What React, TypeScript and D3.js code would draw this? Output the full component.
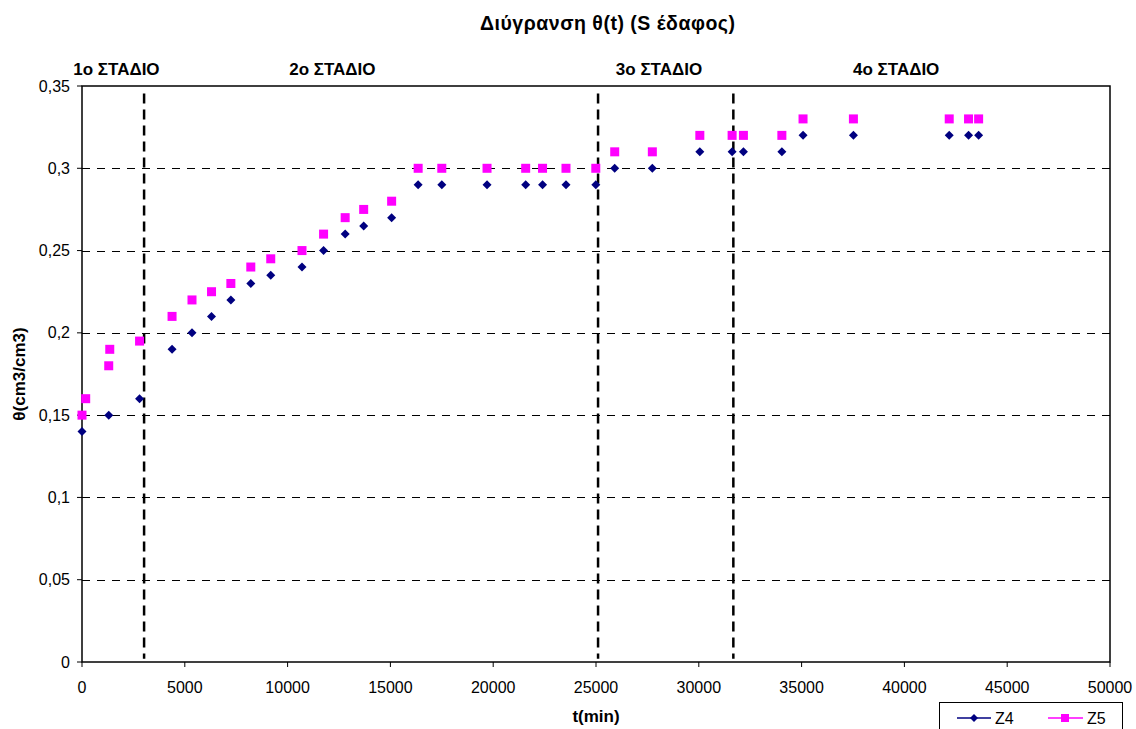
import React from "react";
import * as d3 from "d3";

const z4T = [0, 1300, 2800, 4380, 5350, 6300, 7240, 8210, 9180, 10700, 11750, 12800, 13700, 15060, 16350, 17500, 19700, 21580, 22400, 23540, 24990, 25910, 27740, 30050, 31620, 32170, 34040, 35070, 37520, 42180, 43120, 43610];
const z4V = [0.14, 0.15, 0.16, 0.19, 0.2, 0.21, 0.22, 0.23, 0.235, 0.24, 0.25, 0.26, 0.265, 0.27, 0.29, 0.29, 0.29, 0.29, 0.29, 0.29, 0.29, 0.3, 0.3, 0.31, 0.31, 0.31, 0.31, 0.32, 0.32, 0.32, 0.32, 0.32];

const z5T = [0, 180, 1300, 1350, 2800, 4380, 5350, 6300, 7240, 8210, 9180, 10700, 11750, 12800, 13700, 15060, 16350, 17500, 19700, 21580, 22400, 23540, 24990, 25910, 27740, 30050, 31620, 32170, 34040, 35070, 37520, 42180, 43120, 43610];
const z5V = [0.15, 0.16, 0.18, 0.19, 0.195, 0.21, 0.22, 0.225, 0.23, 0.24, 0.245, 0.25, 0.26, 0.27, 0.275, 0.28, 0.3, 0.3, 0.3, 0.3, 0.3, 0.3, 0.3, 0.31, 0.31, 0.32, 0.32, 0.32, 0.32, 0.33, 0.33, 0.33, 0.33, 0.33];

const stageT = [3020, 25100, 31680];
const stageTop = 0.3455;
const stageLabels = ["1ο ΣΤΑΔΙΟ", "2ο ΣΤΑΔΙΟ", "3ο ΣΤΑΔΙΟ", "4ο ΣΤΑΔΙΟ"];
const stageLabelT = [1674, 12177, 28066, 39600];

const xTicks = [0, 5000, 10000, 15000, 20000, 25000, 30000, 35000, 40000, 45000, 50000];
const yTicks = [0, 0.05, 0.1, 0.15, 0.2, 0.25, 0.3, 0.35];

const title = "Διύγρανση θ(t) (S έδαφος)";
const xLabel = "t(min)";
const yLabel = "θ(cm3/cm3)";
const seriesNames = ["Z4", "Z5"];

const W = 1136, H = 729;
const L = 82, R = 1110, T = 86, B = 662;
const FONT = "Arial, 'Liberation Sans', sans-serif";
const NAVY = "#000080";
const MAG = "#FF00FF";

const x = d3.scaleLinear().domain([0, 50000]).range([L, R]);
const y = d3.scaleLinear().domain([0, 0.35]).range([B, T]);
const fmtY = (v: number) => String(+v.toFixed(2)).replace(".", ",");

function Diamond({ cx, cy, s = 4.5 }: { cx: number; cy: number; s?: number }) {
  return <path d={`M${cx},${cy - s}L${cx + s},${cy}L${cx},${cy + s}L${cx - s},${cy}Z`} fill={NAVY} />;
}
function Square({ cx, cy, s = 4.5 }: { cx: number; cy: number; s?: number }) {
  return <rect x={cx - s} y={cy - s} width={2 * s} height={2 * s} fill={MAG} />;
}

export default function App() {
  return (
    <svg width={W} height={H} style={{ position: "absolute", left: 0, top: 0, background: "#fff" }} fontFamily={FONT}>
      <rect x={0} y={0} width={W} height={H} fill="#fff" />
      <text x={480} y={30} fontSize={19.5} fontWeight="bold" textLength={255} lengthAdjust="spacing">{title}</text>

      {/* gridlines */}
      {yTicks.filter((v) => v > 0 && v < 0.35).map((v) => (
        <line key={v} x1={L} x2={R} y1={Math.round(y(v)) + 0.5} y2={Math.round(y(v)) + 0.5} stroke="#000" strokeWidth={1} strokeDasharray="8,7" />
      ))}

      {/* plot frame */}
      <rect x={L} y={T} width={R - L} height={B - T} fill="none" stroke="#000" strokeWidth={1.5} />

      {/* y ticks */}
      {yTicks.map((v) => (
        <g key={v}>
          <line x1={L - 5} x2={L} y1={y(v)} y2={y(v)} stroke="#000" strokeWidth={1} />
          <text x={70} y={y(v) + 5.5} textAnchor="end" fontSize={16}>{fmtY(v)}</text>
        </g>
      ))}
      {/* x ticks */}
      {xTicks.map((v) => (
        <g key={v}>
          <line x1={x(v)} x2={x(v)} y1={B} y2={B + 5} stroke="#000" strokeWidth={1} />
          <text x={x(v)} y={693} textAnchor="middle" fontSize={16}>{v}</text>
        </g>
      ))}

      <text x={(L + R) / 2} y={722} textAnchor="middle" fontSize={17} fontWeight="bold">{xLabel}</text>
      <text transform={`translate(25,${(T + B) / 2}) rotate(-90)`} textAnchor="middle" fontSize={17} fontWeight="bold">{yLabel}</text>

      {/* stage lines */}
      {stageT.map((t) => (
        <line key={t} x1={x(t)} x2={x(t)} y1={y(stageTop)} y2={y(0.002)} stroke="#000" strokeWidth={2.5} strokeDasharray="10,6" />
      ))}
      {stageLabels.map((s, i) => (
        <text key={s} x={x(stageLabelT[i])} y={75} textAnchor="middle" fontSize={17} fontWeight="bold">{s}</text>
      ))}

      {/* series */}
      {z4T.map((t, i) => <Diamond key={"a" + i} cx={x(t)} cy={y(z4V[i])} />)}
      {z5T.map((t, i) => <Square key={"b" + i} cx={x(t)} cy={y(z5V[i])} />)}

      {/* legend */}
      <rect x={939.5} y={702.5} width={183} height={40} fill="#fff" stroke="#000" strokeWidth={1} />
      <line x1={957} x2={991} y1={718} y2={718} stroke={NAVY} strokeWidth={1.5} />
      <Diamond cx={974} cy={718} s={4} />
      <text x={995} y={724} fontSize={16}>{seriesNames[0]}</text>
      <line x1={1048} x2={1083} y1={718} y2={718} stroke={MAG} strokeWidth={1.5} />
      <Square cx={1065} cy={718} s={4} />
      <text x={1087} y={724} fontSize={16}>{seriesNames[1]}</text>
    </svg>
  );
}
